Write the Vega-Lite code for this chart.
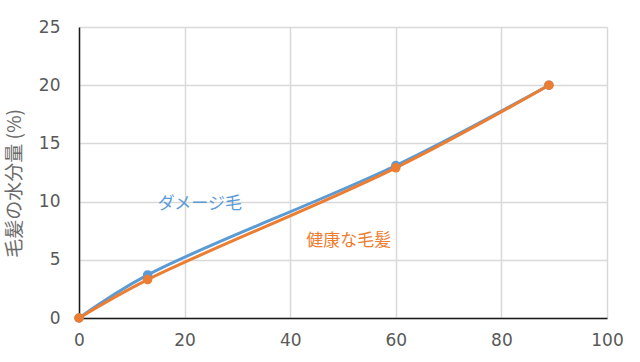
{
  "$schema": "https://vega.github.io/schema/vega-lite/v6.json",
  "width": 528,
  "height": 291,
  "autosize": {"type": "none"},
  "padding": {"left": 79, "top": 27, "right": 33, "bottom": 44},
  "background": "white",
  "config": {
    "view": {"stroke": null},
    "font": "Noto Sans CJK JP",
    "axis": {
      "grid": true,
      "gridColor": "#d9d9d9",
      "gridWidth": 1.5,
      "ticks": false,
      "labelFlush": false,
      "labelOverlap": false,
      "domainColor": "#1a1a1a",
      "domainWidth": 1.5,
      "labelColor": "#595959",
      "labelFontSize": 17,
      "labelFont": "DejaVu Sans",
      "titleFont": "Noto Sans CJK JP",
      "titleColor": "#6b6b6b",
      "titleFontWeight": "normal"
    }
  },
  "datasets": {
    "curves": [
      {"series": "ダメージ毛", "x": 0, "y": 0},
      {"series": "ダメージ毛", "x": 13, "y": 3.7},
      {"series": "ダメージ毛", "x": 60, "y": 13.1},
      {"series": "ダメージ毛", "x": 89, "y": 20},
      {"series": "健康な毛髪", "x": 0, "y": 0},
      {"series": "健康な毛髪", "x": 13, "y": 3.3},
      {"series": "健康な毛髪", "x": 60, "y": 12.9},
      {"series": "健康な毛髪", "x": 89, "y": 20}
    ],
    "labels": [
      {"series": "ダメージ毛", "x": 22.9, "y": 9.8},
      {"series": "健康な毛髪", "x": 51.1, "y": 6.6}
    ]
  },
  "encoding": {
    "x": {
      "field": "x", "type": "quantitative",
      "scale": {"domain": [0, 100], "nice": false},
      "axis": {"values": [0, 20, 40, 60, 80, 100], "labelPadding": 14, "title": null}
    },
    "y": {
      "field": "y", "type": "quantitative",
      "scale": {"domain": [0, 25], "nice": false},
      "axis": {"values": [0, 5, 10, 15, 20, 25], "labelPadding": 19, "title": "毛髪の水分量 (%)", "titleFontSize": 19, "titlePadding": 14, "titleY": 156}
    },
    "color": {
      "field": "series", "type": "nominal",
      "scale": {"domain": ["ダメージ毛", "健康な毛髪"], "range": ["#5b9bd5", "#ed7d31"]},
      "legend": null
    }
  },
  "layer": [
    {
      "data": {"name": "curves"},
      "mark": {"type": "line", "interpolate": "catmull-rom", "strokeWidth": 3}
    },
    {
      "data": {"name": "curves"},
      "mark": {"type": "point", "filled": true, "opacity": 1, "size": 90}
    },
    {
      "data": {"name": "labels"},
      "mark": {"type": "text", "fontSize": 17, "align": "center", "baseline": "middle"},
      "encoding": {"text": {"field": "series"}}
    }
  ]
}
